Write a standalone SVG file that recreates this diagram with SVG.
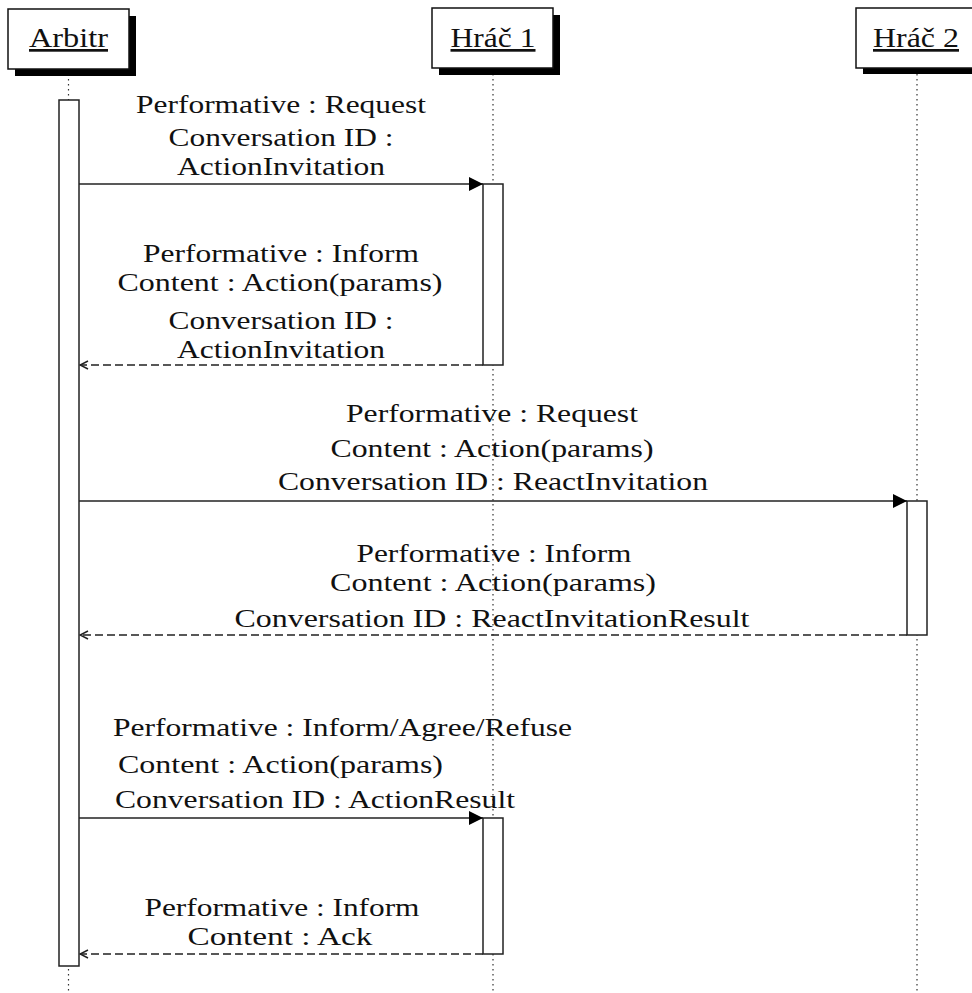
<svg xmlns="http://www.w3.org/2000/svg" width="972" height="993" viewBox="0 0 972 993">
<style>
text{font-family:"Liberation Serif","DejaVu Serif","Times New Roman",serif;font-size:25px;fill:#111}
.h{font-size:27px}
.c{text-anchor:middle}
.life{stroke:#333;stroke-width:1.2;stroke-dasharray:1.5 3.5;fill:none}
.box{fill:#fff;stroke:#111;stroke-width:1.5}
.shadow{fill:#000}
.act{fill:#fff;stroke:#222;stroke-width:1.5}
.msg{stroke:#222;stroke-width:1.5;fill:none}
.ret{stroke:#222;stroke-width:1.5;fill:none;stroke-dasharray:8 4}
</style>
<defs>
<marker id="filled" markerWidth="14" markerHeight="14" viewBox="0 0 14 14" refX="14" refY="7" orient="auto" markerUnits="userSpaceOnUse">
<path d="M0,0 L14,7 L0,14 Z" fill="#000"/>
</marker>
<marker id="open" markerWidth="10" markerHeight="10" viewBox="0 0 10 10" refX="9" refY="5" orient="auto" markerUnits="userSpaceOnUse">
<path d="M1,1 L9,5 L1,9" fill="none" stroke="#222" stroke-width="1.5"/>
</marker>
</defs>
<rect width="972" height="993" fill="#fff"/>

<g id="lifelines">
<line class="life" x1="68.5" y1="69" x2="68.5" y2="993"/>
<line class="life" x1="493" y1="69" x2="493" y2="993"/>
<line class="life" x1="917" y1="69" x2="917" y2="993"/>
</g>

<g id="arbitr">
<rect class="shadow" x="15" y="16" width="121" height="60"/>
<rect class="box" x="8" y="9" width="121" height="60"/>
<text class="c h" x="68.5" y="47" textLength="79" lengthAdjust="spacingAndGlyphs" text-decoration="underline">Arbitr</text>
</g>
<g id="hrac1">
<rect class="shadow" x="439" y="15" width="121" height="60"/>
<rect class="box" x="432" y="8" width="121" height="60"/>
<text class="c h" x="493" y="47" textLength="85" lengthAdjust="spacingAndGlyphs" text-decoration="underline">Hráč 1</text>
</g>
<g id="hrac2">
<rect class="shadow" x="863" y="14" width="121" height="60"/>
<rect class="box" x="856" y="8" width="121" height="60"/>
<text class="c h" x="916" y="47" textLength="86" lengthAdjust="spacingAndGlyphs" text-decoration="underline">Hráč 2</text>
</g>

<g id="activations">
<rect id="act-arbitr" class="act" x="59" y="100" width="20" height="866"/>
<rect id="act-hrac1-a" class="act" x="483" y="184" width="20" height="181"/>
<rect id="act-hrac2" class="act" x="907" y="501" width="20" height="134"/>
<rect id="act-hrac1-b" class="act" x="483" y="818" width="20" height="136"/>
</g>

<g id="connectors">
<line class="msg" x1="79" y1="184" x2="483" y2="184" marker-end="url(#filled)"/>
<line class="ret" x1="483" y1="365" x2="80" y2="365" marker-end="url(#open)"/>
<line class="msg" x1="79" y1="501" x2="907" y2="501" marker-end="url(#filled)"/>
<line class="ret" x1="907" y1="635" x2="80" y2="635" marker-end="url(#open)"/>
<line class="msg" x1="79" y1="818" x2="483" y2="818" marker-end="url(#filled)"/>
<line class="ret" x1="483" y1="954" x2="80" y2="954" marker-end="url(#open)"/>
</g>

<g id="labels">
<text class="c" x="281" y="113" textLength="290" lengthAdjust="spacingAndGlyphs">Performative : Request</text>
<text class="c" x="281" y="146" textLength="225" lengthAdjust="spacingAndGlyphs">Conversation ID :</text>
<text class="c" x="281" y="175" textLength="208" lengthAdjust="spacingAndGlyphs">ActionInvitation</text>

<text class="c" x="281" y="262" textLength="276" lengthAdjust="spacingAndGlyphs">Performative : Inform</text>
<text class="c" x="280" y="291" textLength="325" lengthAdjust="spacingAndGlyphs">Content : Action(params)</text>
<text class="c" x="281" y="329" textLength="225" lengthAdjust="spacingAndGlyphs">Conversation ID :</text>
<text class="c" x="281" y="358" textLength="208" lengthAdjust="spacingAndGlyphs">ActionInvitation</text>

<text class="c" x="492" y="422" textLength="292" lengthAdjust="spacingAndGlyphs">Performative : Request</text>
<text class="c" x="492" y="457" textLength="323" lengthAdjust="spacingAndGlyphs">Content : Action(params)</text>
<text class="c" x="493" y="490" textLength="430" lengthAdjust="spacingAndGlyphs">Conversation ID : ReactInvitation</text>

<text class="c" x="494" y="562" textLength="275" lengthAdjust="spacingAndGlyphs">Performative : Inform</text>
<text class="c" x="493" y="591" textLength="326" lengthAdjust="spacingAndGlyphs">Content : Action(params)</text>
<text class="c" x="492" y="627" textLength="515" lengthAdjust="spacingAndGlyphs">Conversation ID : ReactInvitationResult</text>

<text x="113" y="736" textLength="459" lengthAdjust="spacingAndGlyphs">Performative : Inform/Agree/Refuse</text>
<text x="118" y="773" textLength="325" lengthAdjust="spacingAndGlyphs">Content : Action(params)</text>
<text x="115" y="808" textLength="400" lengthAdjust="spacingAndGlyphs">Conversation ID : ActionResult</text>

<text class="c" x="282" y="916" textLength="275" lengthAdjust="spacingAndGlyphs">Performative : Inform</text>
<text class="c" x="280" y="945" textLength="185" lengthAdjust="spacingAndGlyphs">Content : Ack</text>
</g>
</svg>
